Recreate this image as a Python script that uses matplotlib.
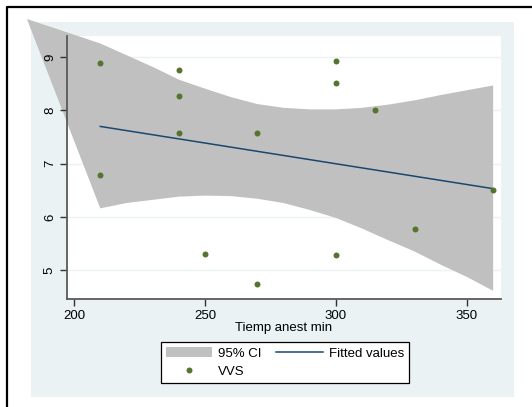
import matplotlib
matplotlib.use('Agg')
import matplotlib.pyplot as plt
from matplotlib.patches import Rectangle, Patch
from matplotlib.lines import Line2D

# VVS vs anaesthesia time
tiemp = [210, 210, 240, 240, 240, 250, 270, 270, 300, 300, 300, 315, 330, 360]
vvs = [8.90, 6.78, 8.76, 8.28, 7.57, 5.31, 7.57, 4.73, 8.93, 8.52, 5.29, 8.00, 5.77, 6.51]

# fitted line end points
fit_x = [210, 360]
fit_y = [7.70, 6.53]

# 95% CI band (upper edge starts further left, as in the picture)
ci_up_x = [182, 210, 220, 230, 240, 250, 260, 270, 280, 290, 300, 310, 320, 330, 340, 350, 360]
ci_up_y = [9.72, 9.26, 9.04, 8.82, 8.58, 8.41, 8.25, 8.12, 8.05, 8.02, 8.02, 8.05, 8.11, 8.19, 8.29, 8.38, 8.47]
ci_lo_x = [210, 220, 230, 240, 250, 260, 270, 280, 290, 300, 310, 320, 330, 340, 350, 360]
ci_lo_y = [6.16, 6.26, 6.32, 6.38, 6.40, 6.39, 6.34, 6.26, 6.13, 5.98, 5.78, 5.56, 5.35, 5.10, 4.87, 4.61]

xticks = [200, 250, 300, 350]
yticks = [5, 6, 7, 8, 9]

plt.rcParams['font.family'] = ['Liberation Sans', 'DejaVu Sans']

W, H = 532, 407
fig = plt.figure(figsize=(W/100, H/100), dpi=100)
fig.patch.set_facecolor('white')

# light graph region
fig.patches.append(Rectangle((31/W, 1-397/H), (514-31)/W, (397-22)/H,
                             transform=fig.transFigure, facecolor='#EAF2F3',
                             edgecolor='none', zorder=-5))
# outer frame (top and left only visible)
fig.lines.append(Line2D([7/W, 7/W, 1], [0, 1-7/H, 1-7/H], transform=fig.transFigure,
                        color='black', lw=1.6, zorder=-4))

ax = fig.add_axes([67/W, 1-299/H, (501-67)/W, (299-36)/H])
ax.set_facecolor('white')

# grid lines under the band, axis on top of it
for yt in yticks:
    ax.axhline(yt, color='#EAF2F3', lw=1, zorder=0.8)

band_x = ci_up_x + ci_lo_x[::-1]
band_y = ci_up_y + ci_lo_y[::-1]
ax.fill(band_x, band_y, color='#C0C0C0', lw=0, clip_on=False, zorder=1.5)
ax.plot(fit_x, fit_y, color='#1A476F', lw=1.1, zorder=3)
ax.plot(tiemp, vvs, 'o', color='#55752F', ms=4.3, mec='none', zorder=4)

ax.set_xlim(197.3, 363)
ax.set_ylim(4.456, 9.4)
ax.set_xticks(xticks)
ax.set_yticks(yticks)
ax.tick_params(labelsize=9.5, length=5, width=1, color='#333333', pad=3)
for lab in ax.get_yticklabels():
    lab.set_rotation(90)
    lab.set_va('center')
for s in ['top', 'right']:
    ax.spines[s].set_visible(False)
for s in ['left', 'bottom']:
    ax.spines[s].set_color('#5A5A5A')
    ax.spines[s].set_linewidth(1.3)
ax.set_xlabel('Tiemp anest min', fontsize=9.5, labelpad=0)

handles = [Patch(facecolor='#C0C0C0', edgecolor='none'),
           Line2D([], [], marker='o', ls='none', color='#55752F', ms=4.3, mec='none'),
           Line2D([], [], color='#1A476F', lw=1.1)]
labels = ['95% CI', 'VVS', 'Fitted values']
leg = fig.legend(handles, labels, ncol=2, loc='upper left',
                 bbox_to_anchor=(161/W, 1-342/H), fontsize=9.5, frameon=True,
                 fancybox=False, edgecolor='black', facecolor='white', framealpha=1,
                 handlelength=3.5, handletextpad=0.45, columnspacing=1.1,
                 borderpad=0.4, labelspacing=0.45, borderaxespad=0)
leg.get_frame().set_linewidth(0.9)

fig.savefig('out.png', dpi=100)
